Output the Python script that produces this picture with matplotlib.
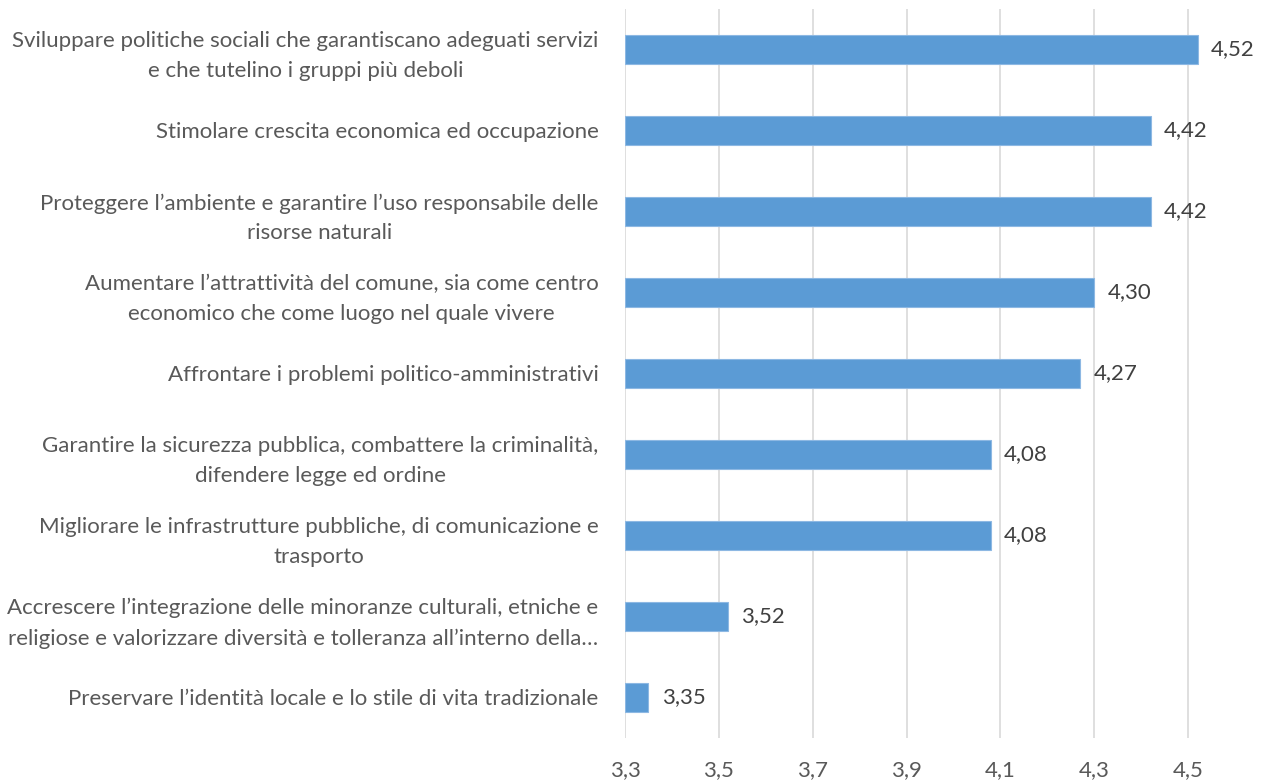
import matplotlib
matplotlib.use('Agg')
import matplotlib.pyplot as plt

categories = [
    "Sviluppare politiche sociali che garantiscano adeguati servizi\ne che tutelino i gruppi più deboli",
    "Stimolare crescita economica ed occupazione",
    "Proteggere l’ambiente e garantire l’uso responsabile delle\nrisorse naturali",
    "Aumentare l’attrattività del comune, sia come centro\neconomico che come luogo nel quale vivere",
    "Affrontare i problemi politico-amministrativi",
    "Garantire la sicurezza pubblica, combattere la criminalità,\ndifendere legge ed ordine",
    "Migliorare le infrastrutture pubbliche, di comunicazione e\ntrasporto",
    "Accrescere l’integrazione delle minoranze culturali, etniche e\nreligiose e valorizzare diversità e tolleranza all’interno della…",
    "Preservare l’identità locale e lo stile di vita tradizionale",
]
scores = [4.52, 4.42, 4.42, 4.30, 4.27, 4.08, 4.08, 3.52, 3.35]
xticks = [3.3, 3.5, 3.7, 3.9, 4.1, 4.3, 4.5]

base = 3.3
bar_color = '#5B9BD5'
label_color = '#595959'

plt.rcParams['font.family'] = ['Lato', 'DejaVu Sans']

fig = plt.figure(figsize=(12.67, 7.82), dpi=100)
ax = fig.add_axes([0.4933, 0.0563, 0.5067, 0.9322])

pos = list(range(len(categories)))
ax.barh(pos, [s - base for s in scores], left=base, height=0.36,
        color=bar_color, edgecolor='#8DB8E3', linewidth=0.8, zorder=3)

# value labels just past the end of each bar
for y, s in zip(pos, scores):
    ax.text(s + 0.028, y, f"{s:.2f}".replace('.', ','), va='center', ha='left',
            fontsize=16, color='#404040')

ax.set_xlim(base, 4.668)
ax.set_ylim(len(categories) - 0.5, -0.5)
ax.set_xticks(xticks)
ax.set_xticklabels([f"{t:.1f}".replace('.', ',') for t in xticks])
ax.set_yticks(pos)
ax.set_yticklabels(categories, multialignment='center', linespacing=1.6)
ax.tick_params(axis='x', length=0, pad=16, labelsize=16, labelcolor=label_color)
ax.tick_params(axis='y', length=0, pad=19, labelsize=16, labelcolor=label_color)
ax.xaxis.grid(True, color='#D9D9D9', linewidth=1.2, zorder=0)
for sp in ax.spines.values():
    sp.set_visible(False)

fig.savefig('out.png', dpi=100)
